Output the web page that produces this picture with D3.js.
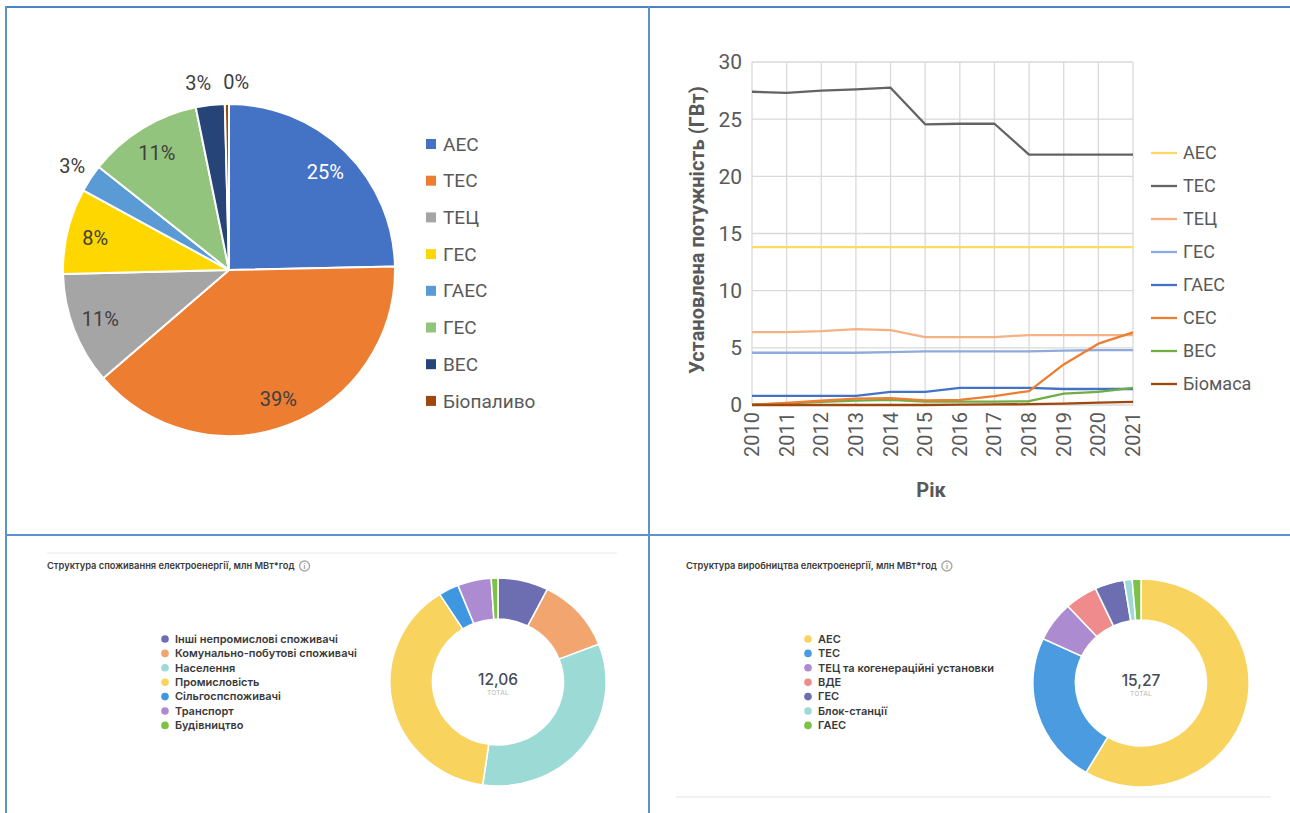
<!DOCTYPE html>
<html>
<head>
<meta charset="utf-8">
<script src="https://cdn.jsdelivr.net/npm/d3@7"></script>
<style>
  html, body { margin: 0; padding: 0; background: #fff; }
  svg { display: block; }
  text { font-family: Roboto, "Noto Sans", sans-serif; }
  .dash text { font-family: Inter, "Noto Sans", sans-serif; }
</style>
</head>
<body>
<svg id="chart" width="1290" height="813"></svg>
<script>
// ─── Дані: кругова діаграма (встановлена потужність) ──────────────────────────
const pieLabels = ['АЕС', 'ТЕС', 'ТЕЦ', 'ГЕС', 'ГАЕС', 'ГЕС', 'ВЕС', 'Біопаливо'];
const pieValues = [24.6, 38.9, 10.9, 8.3, 2.7, 11.1, 2.8, 0.4];
const pieColors = ['#4472c4', '#ed7d31', '#a5a5a5', '#ffd700', '#5b9bd5', '#93c47d', '#264478', '#9e480e'];

// ─── Дані: лінійна діаграма (ГВт) ────────────────────────────────────────────
const years = [2010, 2011, 2012, 2013, 2014, 2015, 2016, 2017, 2018, 2019, 2020, 2021];
const lineNames  = ['АЕС', 'ТЕС', 'ТЕЦ', 'ГЕС', 'ГАЕС', 'СЕС', 'ВЕС', 'Біомаса'];
const lineColors = ['#ffd966', '#636363', '#f4b183', '#8faadc', '#4472c4', '#ed7d31', '#70ad47', '#9e480e'];
const aesValues  = [13.8, 13.8, 13.8, 13.8, 13.8, 13.8, 13.8, 13.8, 13.8, 13.8, 13.8, 13.8];
const tesValues  = [27.4, 27.3, 27.5, 27.6, 27.75, 24.55, 24.6, 24.6, 21.9, 21.9, 21.9, 21.9];
const tecValues  = [6.38, 6.38, 6.47, 6.64, 6.55, 5.94, 5.94, 5.94, 6.12, 6.12, 6.12, 6.12];
const gesValues  = [4.57, 4.57, 4.57, 4.57, 4.63, 4.69, 4.69, 4.69, 4.69, 4.75, 4.8, 4.8];
const gaesValues = [0.79, 0.79, 0.79, 0.79, 1.14, 1.14, 1.49, 1.49, 1.49, 1.4, 1.4, 1.4];
const sesValues  = [0.01, 0.19, 0.37, 0.55, 0.6, 0.4, 0.45, 0.78, 1.22, 3.55, 5.36, 6.35];
const vesValues  = [0.05, 0.15, 0.27, 0.38, 0.45, 0.3, 0.3, 0.3, 0.33, 1.0, 1.15, 1.5];
const bioValues  = [0.0, 0.0, 0.0, 0.0, 0.0, 0.0, 0.04, 0.05, 0.07, 0.12, 0.2, 0.27];
const lineSeries = [aesValues, tesValues, tecValues, gesValues, gaesValues, sesValues, vesValues, bioValues];
const yTicks = [0, 5, 10, 15, 20, 25, 30];

// ─── Дані: споживання ────────────────────────────────────────────────────────
const consTitle  = 'Структура споживання електроенергії, млн МВт*год';
const consLabels = ['Інші непромислові споживачі', 'Комунально-побутові споживачі', 'Населення',
                    'Промисловість', 'Сільгоспспоживачі', 'Транспорт', 'Будівництво'];
const consValues = [7.5, 11.5, 33.0, 38.5, 3.0, 5.0, 1.0];
const consColors = ['#6d6eb1', '#f2a56f', '#9cdad6', '#f8d35e', '#3f97e2', '#ad8bd1', '#7dc146'];
const consTotal  = '12,06';

// ─── Дані: виробництво ───────────────────────────────────────────────────────
const prodTitle  = 'Структура виробництва електроенергії, млн МВт*год';
const prodLabels = ['АЕС', 'ТЕС', 'ТЕЦ та когенераційні установки', 'ВДЕ', 'ГЕС', 'Блок-станції', 'ГАЕС'];
const prodValues = [58.5, 23.5, 6.2, 4.9, 4.4, 1.2, 1.3];
const prodColors = ['#f8d35e', '#4a9be0', '#ad8bd1', '#ef8b8c', '#6d6eb1', '#9cdad6', '#7dc146'];
const prodTotal  = '15,27';

const svg = d3.select('#chart');

// ─── Рамки таблиці ───────────────────────────────────────────────────────────
const borders = svg.append('g').attr('stroke', '#5b93cf').attr('stroke-width', 2);
borders.append('line').attr('x1', 5).attr('x2', 1290).attr('y1', 7).attr('y2', 7).attr('stroke', '#4a83c4');
borders.append('line').attr('x1', 6).attr('x2', 6).attr('y1', 6).attr('y2', 813);
borders.append('line').attr('x1', 649).attr('x2', 649).attr('y1', 6).attr('y2', 813);
borders.append('line').attr('x1', 5).attr('x2', 1290).attr('y1', 535).attr('y2', 535);

// ─── 1. Кругова діаграма ─────────────────────────────────────────────────────
{
  const cx = 229, cy = 270, r = 166;
  const total = d3.sum(pieValues);
  const arcs = d3.pie().sort(null).value(d => d)(pieValues);
  const arc = d3.arc().innerRadius(0).outerRadius(r);
  const g = svg.append('g').attr('transform', `translate(${cx},${cy})`);

  g.selectAll('path').data(arcs).join('path')
    .attr('d', arc)
    .attr('fill', (d, i) => pieColors[i])
    .attr('stroke', '#fff').attr('stroke-width', 2).attr('stroke-linejoin', 'round');

  // Підписи: великі сектори всередині, малі — ззовні
  const labels = arcs.map((d, i) => {
    const share = d.value / total;
    const a = (d.startAngle + d.endAngle) / 2;
    const outside = share < 0.05;
    const rr = outside ? r + 22 : r * 0.83;
    return { i, outside, x: Math.sin(a) * rr, y: -Math.cos(a) * rr, text: Math.round(share * 100) + '%' };
  });
  // Розсунути сусідні зовнішні підписи, що перекриваються
  const outer = labels.filter(l => l.outside);
  for (let k = 1; k < outer.length; k++) {
    const a = outer[k - 1], b = outer[k];
    if (Math.abs(a.y - b.y) < 20 && Math.abs(a.x - b.x) < 38) {
      const mid = (a.x + b.x) / 2;
      a.x = mid - 19; b.x = mid + 19;
    }
  }

  g.selectAll('text.lbl').data(labels).join('text')
    .attr('class', 'lbl')
    .attr('x', d => d.x).attr('y', d => d.y)
    .attr('fill', d => d.i === 0 ? '#fff' : '#404040')
    .attr('text-anchor', 'middle')
    .attr('dy', '0.35em')
    .attr('font-size', 20)
    .text(d => d.text);

  const lg = svg.append('g').attr('transform', 'translate(426,144)');
  const items = lg.selectAll('g').data(pieLabels).join('g')
    .attr('transform', (d, i) => `translate(0,${i * 36.7})`);
  items.append('rect').attr('x', 0).attr('y', -5).attr('width', 10).attr('height', 10)
    .attr('fill', (d, i) => pieColors[i]);
  items.append('text').attr('x', 17).attr('dy', '0.35em')
    .attr('font-size', 19).attr('fill', '#595959').text(d => d);
}

// ─── 2. Лінійна діаграма ─────────────────────────────────────────────────────
{
  const x = d3.scaleLinear().domain([2010, 2021]).range([752, 1133]);
  const y = d3.scaleLinear().domain([0, 30]).range([405, 62]);
  const g = svg.append('g');

  g.append('g').selectAll('line').data(yTicks).join('line')
    .attr('x1', x(2010)).attr('x2', x(2021))
    .attr('y1', d => y(d)).attr('y2', d => y(d))
    .attr('stroke', '#d9d9d9').attr('stroke-width', 1.3);
  g.append('g').selectAll('line').data(years).join('line')
    .attr('x1', d => x(d)).attr('x2', d => x(d))
    .attr('y1', y(0)).attr('y2', y(30))
    .attr('stroke', '#d9d9d9').attr('stroke-width', 1.3);

  g.append('g').selectAll('text').data(yTicks).join('text')
    .attr('x', 742).attr('y', d => y(d)).attr('dy', '0.35em')
    .attr('text-anchor', 'end').attr('font-size', 21).attr('fill', '#595959')
    .text(d => d);

  g.append('g').selectAll('text').data(years).join('text')
    .attr('transform', d => `translate(${x(d)},412) rotate(-90)`)
    .attr('dy', '0.35em')
    .attr('text-anchor', 'end').attr('font-size', 20).attr('fill', '#595959')
    .text(d => d);

  const line = d3.line().x((d, i) => x(years[i])).y(d => y(d));
  // Порядок малювання: нижні серії першими
  const order = [0, 2, 3, 4, 6, 5, 7, 1];
  g.append('g').selectAll('path').data(order).join('path')
    .attr('d', i => line(lineSeries[i]))
    .attr('fill', 'none')
    .attr('stroke', i => lineColors[i])
    .attr('stroke-width', 2.3)
    .attr('stroke-linejoin', 'round');

  svg.append('text')
    .attr('transform', 'translate(697,230) rotate(-90)')
    .attr('text-anchor', 'middle').attr('dy', '0.35em')
    .attr('font-size', 20).attr('font-weight', 'bold').attr('fill', '#595959')
    .text('Установлена потужність (ГВт)');

  svg.append('text')
    .attr('x', 931).attr('y', 497).attr('text-anchor', 'middle')
    .attr('font-size', 20).attr('font-weight', 'bold').attr('fill', '#595959')
    .text('Рік');

  const lg = svg.append('g').attr('transform', 'translate(1151,153)');
  const items = lg.selectAll('g').data(lineNames).join('g')
    .attr('transform', (d, i) => `translate(0,${i * 33})`);
  items.append('line').attr('x1', 0).attr('x2', 26)
    .attr('stroke', (d, i) => lineColors[i]).attr('stroke-width', 2.3);
  items.append('text').attr('x', 32).attr('dy', '0.35em')
    .attr('font-size', 18).attr('fill', '#595959').text(d => d);
}

// ─── 3–4. Кільцеві діаграми з дашборда ───────────────────────────────────────
function donutPanel(opts) {
  const g = svg.append('g').attr('class', 'dash');

  if (opts.topRule) {
    g.append('line').attr('x1', opts.x0).attr('x2', opts.x0 + 570)
      .attr('y1', 553).attr('y2', 553).attr('stroke', '#f0f0f0').attr('stroke-width', 1.5);
  }
  if (opts.bottomRule) {
    g.append('line').attr('x1', opts.x0 - 10).attr('x2', opts.x0 + 585)
      .attr('y1', 797).attr('y2', 797).attr('stroke', '#ececec').attr('stroke-width', 1.5);
  }

  const title = g.append('text')
    .attr('x', opts.x0).attr('y', 569)
    .attr('font-size', 9.3).attr('font-weight', 600).attr('fill', '#3a3a3a')
    .text(opts.title);
  const tw = title.node().getComputedTextLength();
  const info = g.append('g').attr('transform', `translate(${opts.x0 + tw + 10},566)`);
  info.append('circle').attr('r', 5).attr('fill', '#fff').attr('stroke', '#a8a8a8').attr('stroke-width', 1.4);
  info.append('text').attr('text-anchor', 'middle').attr('dy', '0.36em')
    .attr('font-size', 7).attr('font-weight', 700).attr('fill', '#999').text('i');

  const lg = g.append('g').attr('transform', `translate(${opts.lx},639)`);
  const items = lg.selectAll('g').data(opts.labels).join('g')
    .attr('transform', (d, i) => `translate(0,${i * 14.4})`);
  items.append('circle').attr('r', 3.8).attr('fill', (d, i) => opts.colors[i]);
  items.append('text').attr('x', 10).attr('dy', '0.35em')
    .attr('font-size', 11).attr('font-weight', 600).attr('fill', '#3a3a3a').text(d => d);

  const arcs = d3.pie().sort(null).value(d => d)(opts.values);
  const arc = d3.arc().innerRadius(63).outerRadius(104);
  const dg = g.append('g').attr('transform', `translate(${opts.cx},${opts.cy}) scale(1.04,1)`);
  dg.selectAll('path').data(arcs).join('path')
    .attr('d', arc)
    .attr('fill', (d, i) => opts.colors[i])
    .attr('stroke', '#fff').attr('stroke-width', 1.5);

  g.append('text').attr('x', opts.cx).attr('y', opts.cy + 3)
    .attr('text-anchor', 'middle').attr('font-size', 15.5).attr('font-weight', 500).attr('fill', '#474c58')
    .text(opts.total);
  g.append('text').attr('x', opts.cx).attr('y', opts.cy + 13)
    .attr('text-anchor', 'middle').attr('font-size', 6.5).attr('fill', '#b5b5b5')
    .attr('letter-spacing', 0.3)
    .text('TOTAL');
}

donutPanel({
  x0: 47, title: consTitle, labels: consLabels, values: consValues, colors: consColors,
  total: consTotal, lx: 165, cx: 498, cy: 682, topRule: true, bottomRule: false
});
donutPanel({
  x0: 686, title: prodTitle, labels: prodLabels, values: prodValues, colors: prodColors,
  total: prodTotal, lx: 808, cx: 1141, cy: 683, topRule: false, bottomRule: true
});
</script>
</body>
</html>
